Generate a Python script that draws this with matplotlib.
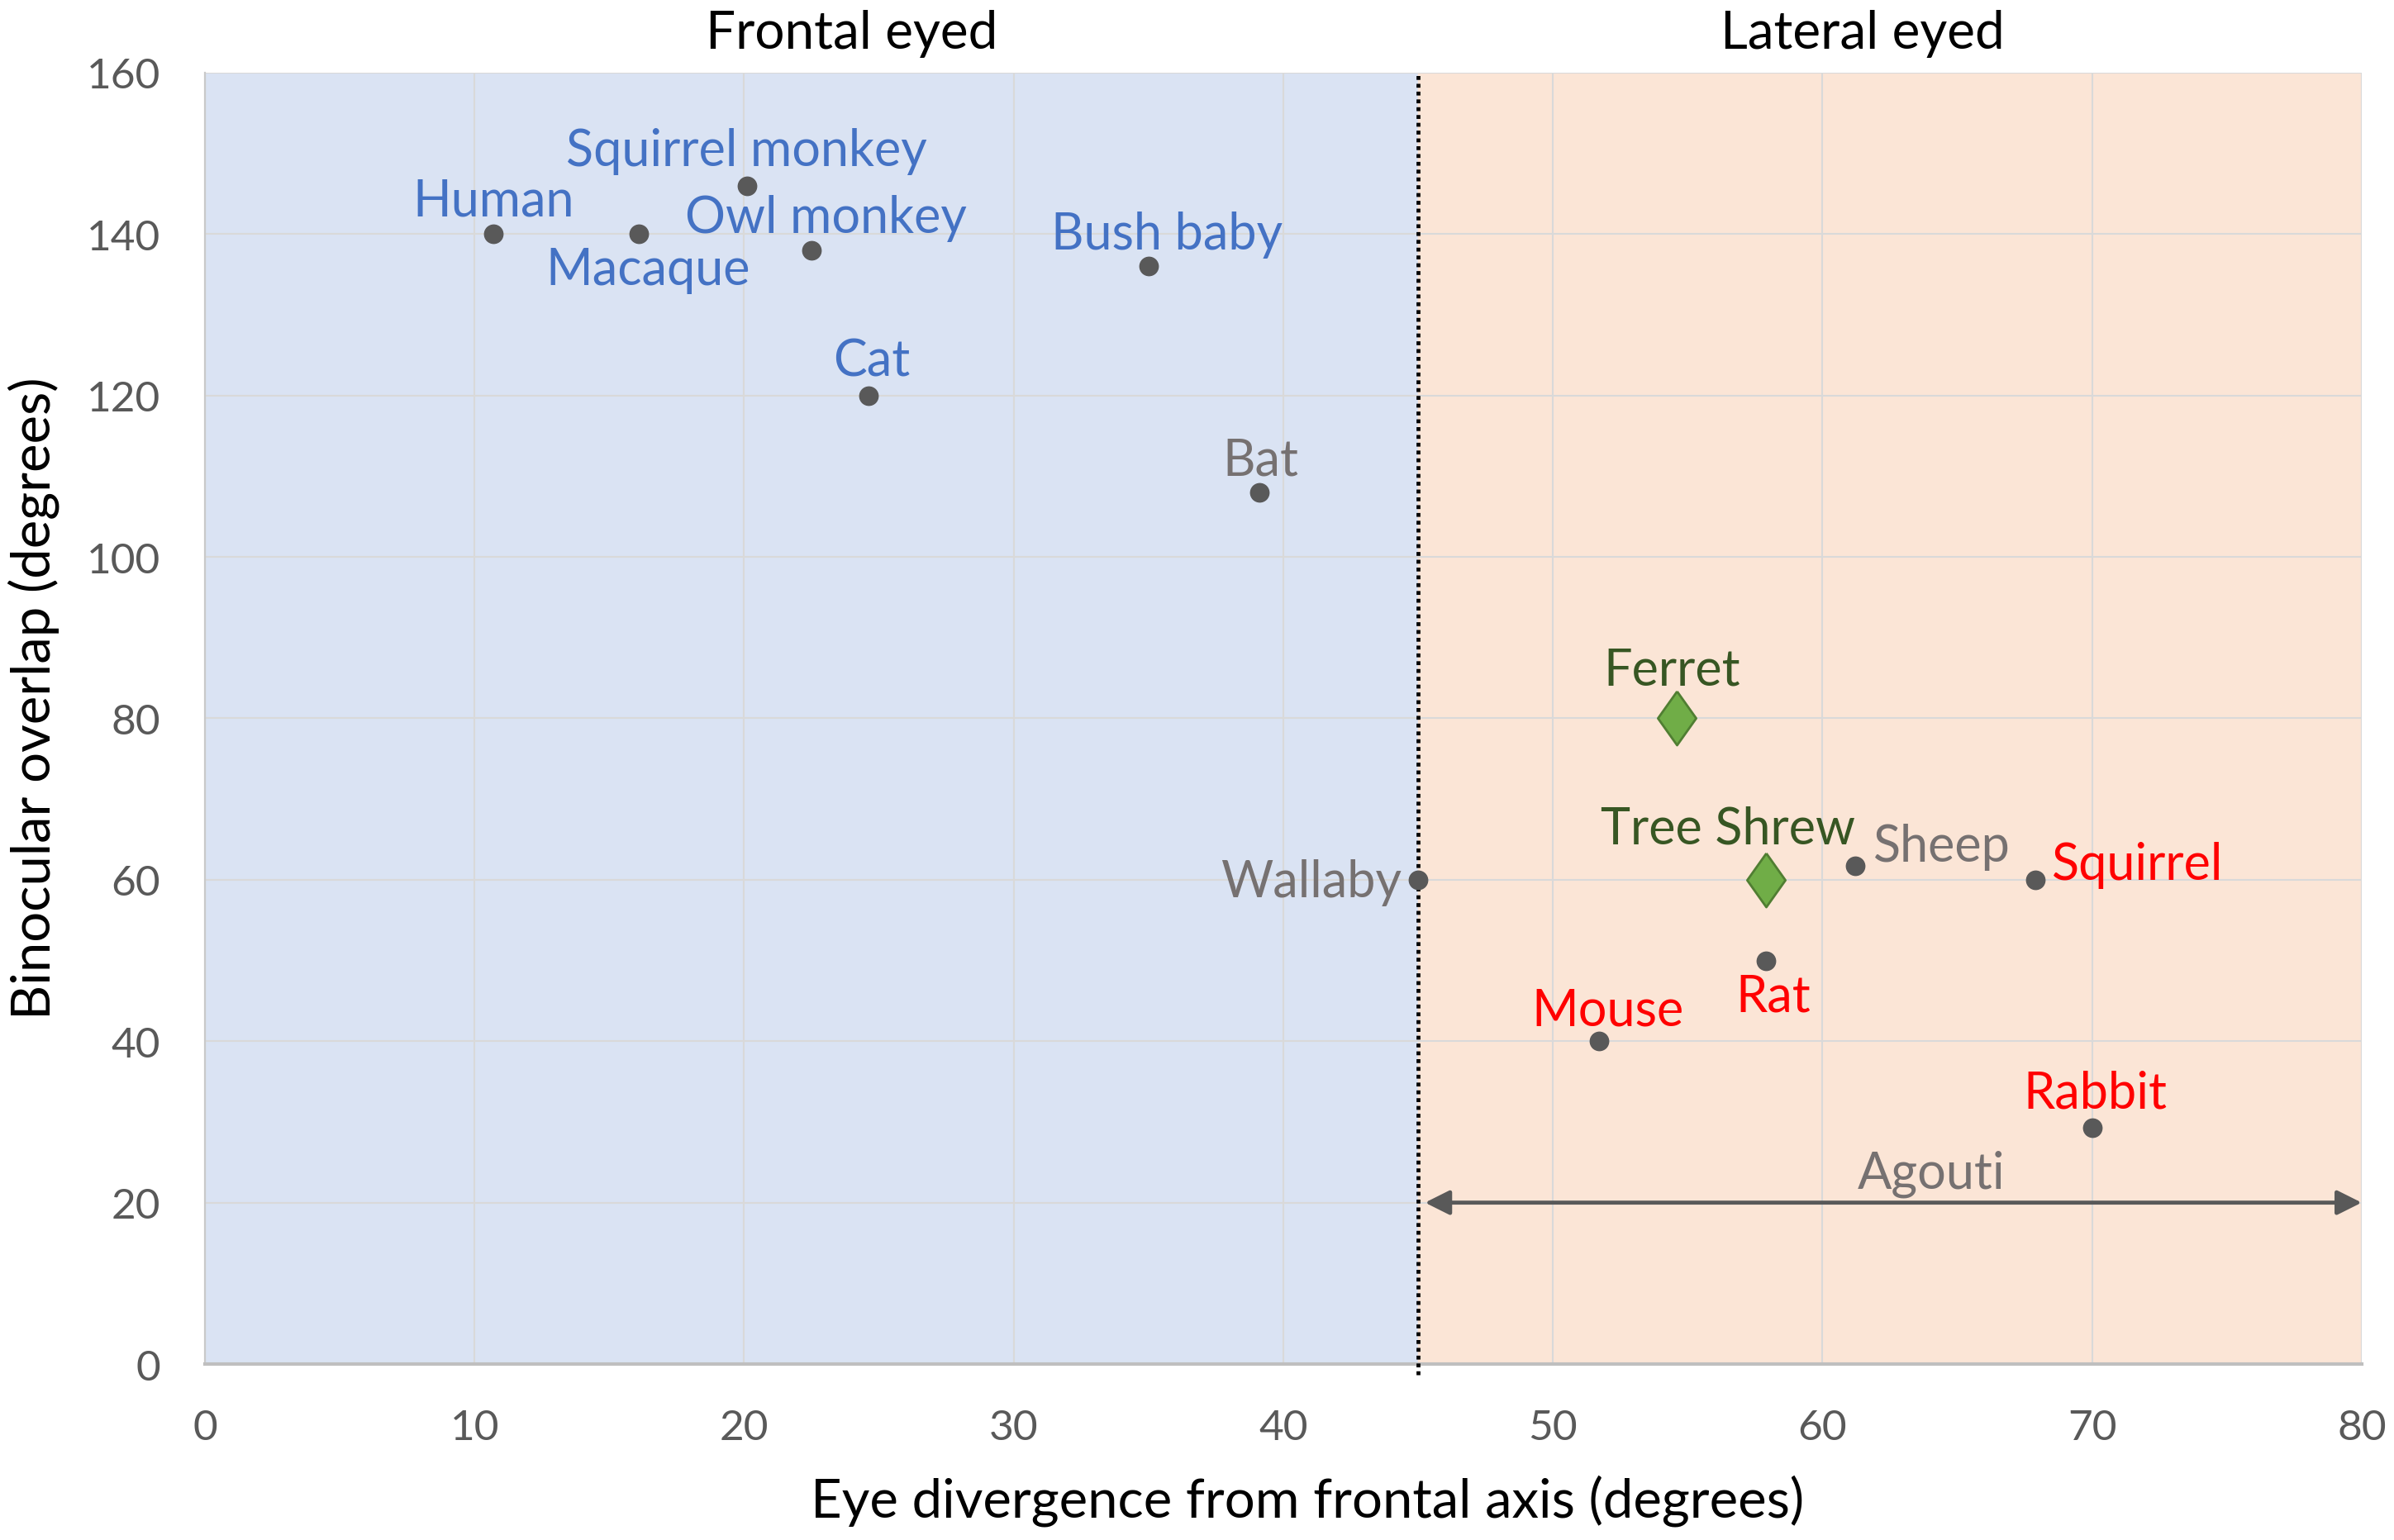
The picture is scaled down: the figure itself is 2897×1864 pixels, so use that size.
import matplotlib
matplotlib.use('Agg')
import matplotlib.pyplot as plt
import matplotlib.transforms as mtransforms

plt.rcParams['font.family'] = ['Lato', 'DejaVu Sans']

# species data
names = ['Human', 'Macaque', 'Squirrel monkey', 'Owl monkey', 'Bush baby', 'Cat',
         'Bat', 'Wallaby', 'Sheep', 'Squirrel', 'Rat', 'Mouse', 'Rabbit']
divergence = [10.7, 16.1, 20.1, 22.5, 35.0, 24.6, 39.1, 45.0, 61.2, 67.9, 57.9, 51.7, 70.0]
overlap = [140, 140, 146, 138, 136, 120, 108, 60, 61.7, 60, 50, 40, 29.3]
label_colors = ['#4472C4'] * 6 + ['#767171', '#767171', '#767171',
                                  '#FF0000', '#FF0000', '#FF0000', '#FF0000']

shrew_names = ['Ferret', 'Tree Shrew']
shrew_div = [54.6, 57.9]
shrew_ovl = [80, 60]

agouti_range = [45, 80]
agouti_ovl = 20

frontal_limit = 45
xmax = 80
ymax = 160

# label offsets in pixels (dx, dy, ha)
offsets = {
    'Human': (0, 40, 'center'), 'Macaque': (11, -43, 'center'),
    'Squirrel monkey': (0, 42, 'center'), 'Owl monkey': (17, 39, 'center'),
    'Bush baby': (22, 39, 'center'), 'Cat': (4, 42, 'center'),
    'Bat': (2, 39, 'center'), 'Wallaby': (-20, -3, 'right'),
    'Sheep': (22, 24, 'left'), 'Squirrel': (20, 18, 'left'),
    'Rat': (9, -43, 'center'), 'Mouse': (11, 37, 'center'),
    'Rabbit': (4, 42, 'center'),
    'Ferret': (-6, 58, 'center'), 'Tree Shrew': (-46, 62, 'center'),
}

fig = plt.figure(figsize=(28.97, 18.65), dpi=100)
ax = fig.add_axes([0.0856, 0.1142, 0.9009, 0.8381])

ax.axvspan(0, frontal_limit, color='#DAE3F3', zorder=0)
ax.axvspan(frontal_limit, xmax, color='#FBE5D6', zorder=0)

ax.set_xlim(0, xmax)
ax.set_ylim(0, ymax)
ax.set_xticks(range(0, xmax + 1, 10))
ax.set_yticks(range(0, ymax + 1, 20))
ax.grid(True, color='#D9D9D9', lw=1.5, zorder=1)
ax.tick_params(length=0, labelsize=37, labelcolor='#595959', pad=39)
for s in ['top', 'right']:
    ax.spines[s].set_visible(False)
ax.spines['left'].set_color('#C9C9C9')
ax.spines['left'].set_linewidth(1.6)
ax.spines['bottom'].set_color('#BFBFBF')
ax.spines['bottom'].set_linewidth(3)

ax.axvline(frontal_limit, color='black', lw=3.4, ls=(0, (1.0, 1.0)), zorder=3,
           ymin=-0.008, clip_on=False)

diamond = [(0, 1), (0.71, 0), (0, -1), (-0.71, 0), (0, 1)]
ax.scatter(divergence, overlap, s=260, color='#595959', zorder=5)
ax.scatter(shrew_div, shrew_ovl, marker=diamond, s=2200, color='#70AD47',
           edgecolor='#507E32', lw=2, zorder=5)

for n, x, y, c in zip(names, divergence, overlap, label_colors):
    dx, dy, ha = offsets[n]
    ax.annotate(n, (x, y), xytext=(dx, dy), textcoords='offset pixels',
                ha=ha, va='center', color=c, fontsize=44, zorder=6)
for n, x, y in zip(shrew_names, shrew_div, shrew_ovl):
    dx, dy, ha = offsets[n]
    ax.annotate(n, (x, y), xytext=(dx, dy), textcoords='offset pixels',
                ha=ha, va='center', color='#375623', fontsize=44, zorder=6)

# agouti range arrow
ax.annotate('', xy=(agouti_range[1], agouti_ovl), xytext=(agouti_range[0], agouti_ovl),
            arrowprops=dict(arrowstyle='<|-|>', color='#595959', lw=3.5,
                            mutation_scale=45, shrinkA=6, shrinkB=0), zorder=6)
ax.annotate('Agouti', (sum(agouti_range) / 2, agouti_ovl), xytext=(50, 35),
            textcoords='offset pixels', ha='center', va='center',
            color='#767171', fontsize=44, zorder=6)

trans = mtransforms.blended_transform_factory(ax.transData, ax.transAxes)
ax.text(24, 1.031, 'Frontal eyed', transform=trans, ha='center', va='center',
        fontsize=46, color='black')
ax.text(61.5, 1.031, 'Lateral eyed', transform=trans, ha='center', va='center',
        fontsize=46, color='black')

fig.text(0.546, 0.026, 'Eye divergence from frontal axis (degrees)', ha='center',
         va='center', fontsize=47, color='black')
fig.text(0.014, 0.547, 'Binocular overlap (degrees)', ha='center', va='center',
         rotation=90, fontsize=47, color='black')

fig.savefig('out.png', dpi=100)
